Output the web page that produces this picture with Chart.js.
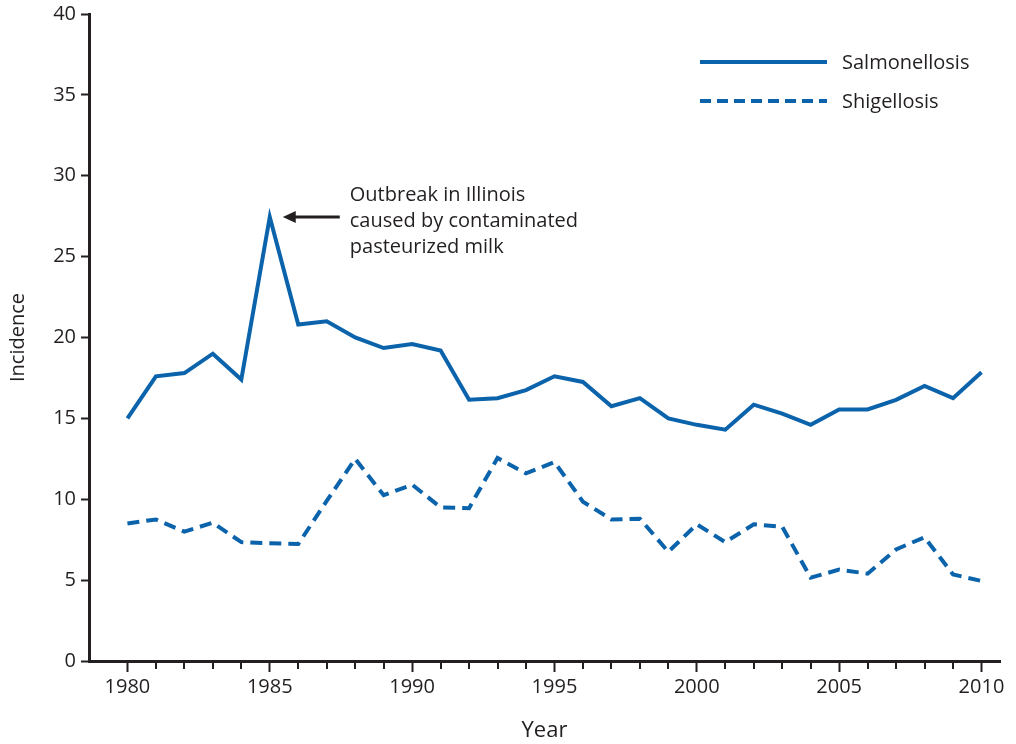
<!DOCTYPE html>
<html>
<head>
<meta charset="utf-8">
<script src="https://cdn.jsdelivr.net/npm/chart.js@4/dist/chart.umd.min.js"></script>
<style>
  html, body { margin: 0; padding: 0; background: #fff; }
  #wrap { width: 1016px; height: 744px; }
</style>
</head>
<body>
<div id="wrap"><canvas id="chart"></canvas></div>
<script>
// ─── Data ────────────────────────────────────────────────────
const years = [1980, 1981, 1982, 1983, 1984, 1985, 1986, 1987, 1988, 1989,
               1990, 1991, 1992, 1993, 1994, 1995, 1996, 1997, 1998, 1999,
               2000, 2001, 2002, 2003, 2004, 2005, 2006, 2007, 2008, 2009, 2010];

const salmonellosis = [15.0, 17.6, 17.8, 19.0, 17.4, 27.45, 20.8, 21.0, 20.0, 19.35,
                       19.6, 19.2, 16.15, 16.25, 16.75, 17.6, 17.25, 15.75, 16.25, 15.0,
                       14.6, 14.3, 15.85, 15.3, 14.6, 15.55, 15.55, 16.15, 17.0, 16.25, 17.85];

const shigellosis = [8.5, 8.75, 8.0, 8.55, 7.35, 7.28, 7.23, 9.9, 12.5, 10.25,
                     10.9, 9.5, 9.45, 12.55, 11.6, 12.3, 9.85, 8.75, 8.8, 6.75,
                     8.45, 7.35, 8.45, 8.3, 5.15, 5.65, 5.4, 6.9, 7.65, 5.35, 4.95];

const yTicks = [0, 5, 10, 15, 20, 25, 30, 35, 40];
const xLabelYears = [1980, 1985, 1990, 1995, 2000, 2005, 2010];

const seriesNames = ['Salmonellosis', 'Shigellosis'];
const noteYear = 1985;
const noteLines = ['Outbreak in Illinois', 'caused by contaminated', 'pasteurized milk'];

// ─── Styling ─────────────────────────────────────────────────
const BLUE = '#0b63ab';
const INK = '#231f20';
const FONT = "'Open Sans', 'Noto Sans', sans-serif";
const DASH = [12, 7];

const toPoints = vals => vals.map((v, i) => ({ x: years[i], y: v }));

// minor year ticks + legend + annotation arrow
const extrasPlugin = {
  id: 'extras',
  afterDraw(chart) {
    const { ctx, chartArea, scales: { x, y } } = chart;
    ctx.save();

    // minor (non-labelled) year ticks
    ctx.strokeStyle = INK;
    ctx.lineWidth = 2;
    years.forEach(yr => {
      if (xLabelYears.includes(yr)) return;
      const px = Math.round(x.getPixelForValue(yr));
      ctx.beginPath();
      ctx.moveTo(px, chartArea.bottom);
      ctx.lineTo(px, chartArea.bottom + 8);
      ctx.stroke();
    });

    // legend, top right
    const lx0 = chartArea.right - 300, lx1 = chartArea.right - 173;
    const rows = [chartArea.top + 48, chartArea.top + 87];
    ctx.lineWidth = 4;
    ctx.strokeStyle = BLUE;
    rows.forEach((ry, i) => {
      ctx.setLineDash(i === 0 ? [] : [11, 6]);
      ctx.beginPath();
      ctx.moveTo(lx0, ry);
      ctx.lineTo(lx1, ry);
      ctx.stroke();
    });
    ctx.setLineDash([]);
    ctx.fillStyle = INK;
    ctx.font = `20px ${FONT}`;
    ctx.textBaseline = 'middle';
    ctx.textAlign = 'left';
    rows.forEach((ry, i) => ctx.fillText(seriesNames[i], lx1 + 15, ry + 1));

    // annotation arrow pointing at the 1985 peak
    const peakX = x.getPixelForValue(noteYear);
    const peakY = y.getPixelForValue(salmonellosis[years.indexOf(noteYear)]);
    const tipX = peakX + 13, tailX = peakX + 70;
    ctx.strokeStyle = INK;
    ctx.lineWidth = 3;
    ctx.beginPath();
    ctx.moveTo(tailX, peakY);
    ctx.lineTo(tipX + 10, peakY);
    ctx.stroke();
    ctx.fillStyle = INK;
    ctx.beginPath();
    ctx.moveTo(tipX, peakY);
    ctx.lineTo(tipX + 13, peakY - 6);
    ctx.lineTo(tipX + 13, peakY + 6);
    ctx.closePath();
    ctx.fill();

    ctx.font = `20px ${FONT}`;
    ctx.textBaseline = 'alphabetic';
    noteLines.forEach((t, i) => ctx.fillText(t, peakX + 80, peakY - 16 + i * 26));

    ctx.restore();
  },
};

new Chart(document.getElementById('chart'), {
  type: 'line',
  data: {
    datasets: [
      {
        label: seriesNames[0],
        data: toPoints(salmonellosis),
        borderColor: BLUE,
        borderWidth: 4,
        pointRadius: 0,
        tension: 0,
        fill: false,
      },
      {
        label: seriesNames[1],
        data: toPoints(shigellosis),
        borderColor: BLUE,
        borderWidth: 4,
        borderDash: DASH,
        pointRadius: 0,
        tension: 0,
        fill: false,
      },
    ],
  },
  options: {
    responsive: true,
    maintainAspectRatio: false,
    animation: false,
    layout: { padding: { top: 14, right: 16, left: 0, bottom: 0 } },
    plugins: {
      legend: { display: false },
      tooltip: { enabled: false },
    },
    scales: {
      x: {
        type: 'linear',
        min: 1978.65,
        max: 2010.65,
        afterBuildTicks: s => { s.ticks = xLabelYears.map(v => ({ value: v })); },
        afterFit: s => { s.height = 83; },
        ticks: {
          color: INK, font: { family: FONT, size: 20 }, padding: 3, maxRotation: 0,
          callback: v => String(v),
        },
        grid: { drawOnChartArea: false, drawTicks: true, tickLength: 11, tickWidth: 2, tickColor: INK },
        border: { display: true, color: INK, width: 3 },
        title: { display: true, text: 'Year', color: INK, font: { family: FONT, size: 22 }, padding: { top: 0, bottom: 0 } },
      },
      y: {
        type: 'linear',
        min: 0,
        max: 40,
        afterBuildTicks: s => { s.ticks = yTicks.map(v => ({ value: v })); },
        afterFit: s => { s.width = 89; s.paddingTop = 0; s.paddingBottom = 0; },
        ticks: { color: INK, font: { family: FONT, size: 20 }, padding: 5 },
        grid: { drawOnChartArea: false, drawTicks: true, tickLength: 8, tickWidth: 2, tickColor: INK },
        border: { display: true, color: INK, width: 3 },
        title: { display: true, text: 'Incidence', color: INK, font: { family: FONT, size: 20 }, padding: { top: 6, bottom: 0 } },
      },
    },
  },
  plugins: [extrasPlugin],
});
</script>
</body>
</html>
